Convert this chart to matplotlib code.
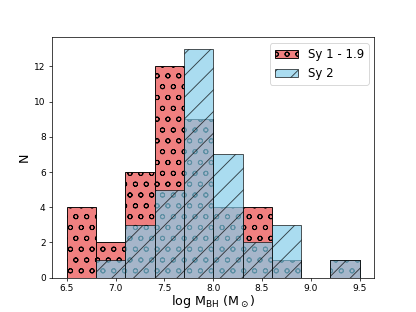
import matplotlib.pyplot as plt
import numpy as np

bins = [6.5, 6.8, 7.1, 7.4, 7.7, 8.0, 8.3, 8.6, 8.9, 9.2, 9.5]
sy1 = [4, 2, 6, 12, 9, 4, 4, 1, 0, 1]
sy2 = [0, 1, 3, 5, 13, 7, 2, 3, 0, 1]

centers = [(bins[i] + bins[i + 1]) / 2 for i in range(len(bins) - 1)]

fig = plt.figure(figsize=(6.4, 4.8), dpi=65)
ax = fig.add_subplot(111)
ax.hist(centers, bins=bins, weights=sy1, color='lightcoral', edgecolor='black',
        hatch='o', label='Sy 1 - 1.9')
ax.hist(centers, bins=bins, weights=sy2, color='skyblue', edgecolor='black',
        alpha=0.7, hatch='/', label='Sy 2')
ax.set_xlabel(r'log M$_{\rm BH}$ (M$_\odot$)', fontsize=14, labelpad=0)
ax.set_ylabel('N', fontsize=14)
ax.set_xticks([6.5, 7.0, 7.5, 8.0, 8.5, 9.0, 9.5])
ax.legend(fontsize=13, loc='upper right')
fig.savefig('out.png', dpi=65)
